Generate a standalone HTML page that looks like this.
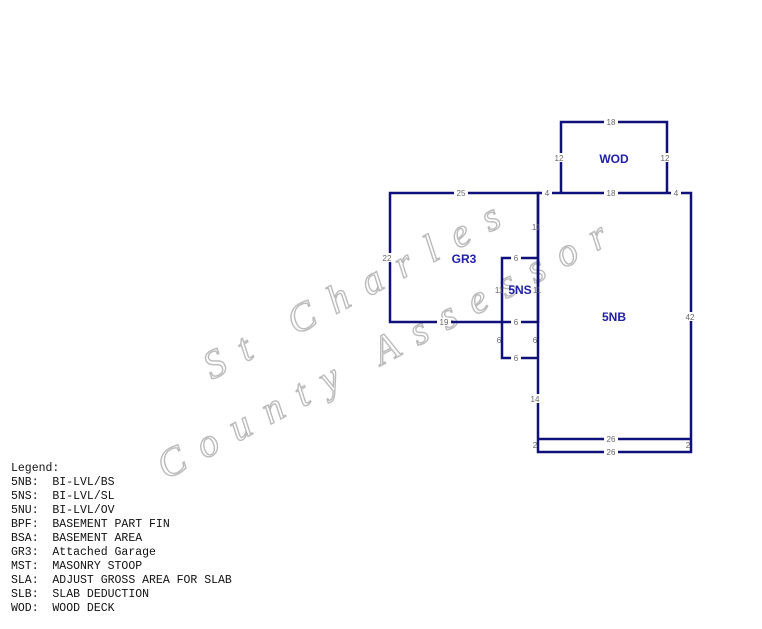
<!DOCTYPE html>
<html><head><style>
body{margin:0;background:#fff;width:762px;height:629px;overflow:hidden;position:relative}
.lg{position:absolute;left:11px;top:462px;font-family:"Liberation Mono",monospace;font-size:11.5px;line-height:14px;white-space:pre;color:#111}
</style></head><body>
<svg width="762" height="629" style="position:absolute;left:0;top:0">
<g font-family="Liberation Serif, serif" font-style="italic" font-size="40" fill="#fff" stroke="#bbb" stroke-width="1.4">
<text transform="translate(212,380) rotate(-28)" letter-spacing="18">St Charles</text>
<text transform="translate(166,480) rotate(-28)" letter-spacing="17">County Assessor</text>
</g>
<g stroke="#10107a" stroke-width="2.5" fill="none">
<rect x="390" y="193" width="148" height="129"/>
<rect x="538" y="193" width="153" height="259"/>
<line x1="538" y1="439" x2="691" y2="439"/>
<polyline points="561,193 561,122 667,122 667,193"/>
<polyline points="538,258 502,258 502,358 538,358"/>
</g>
<g font-family="Liberation Sans, sans-serif" font-size="8" fill="#666" text-anchor="middle">
<g fill="#fff" stroke="none">
<rect x="604" y="118" width="14" height="8"/><rect x="554" y="153" width="14" height="9"/><rect x="660" y="153" width="14" height="9"/>
<rect x="454" y="189" width="14" height="8"/><rect x="542" y="189" width="10" height="8"/><rect x="604" y="189" width="14" height="8"/><rect x="671" y="189" width="10" height="8"/>
<rect x="381" y="253" width="14" height="9"/><rect x="683" y="312" width="14" height="9"/><rect x="531" y="394" width="14" height="9"/>
<rect x="437" y="318" width="14" height="8"/><rect x="511" y="254" width="10" height="8"/><rect x="511" y="318" width="10" height="8"/><rect x="511" y="354" width="10" height="8"/>
<rect x="604" y="435" width="14" height="8"/><rect x="604" y="448" width="14" height="8"/>
</g>
<text x="536" y="230">11</text><text x="499" y="293">11</text><text x="537" y="293">11</text>
<text x="611" y="125">18</text><text x="559" y="161">12</text><text x="665" y="161">12</text>
<text x="461" y="196">25</text><text x="547" y="196">4</text><text x="611" y="196">18</text><text x="676" y="196">4</text>
<text x="387" y="261">22</text><text x="690" y="320">42</text>
<text x="516" y="261">6</text>
<text x="444" y="325">19</text><text x="516" y="325">6</text><text x="499" y="343">6</text><text x="535" y="343">6</text><text x="516" y="361">6</text>
<text x="535" y="402">14</text><text x="535" y="448">2</text><text x="688" y="448">2</text>
<text x="611" y="442">26</text><text x="611" y="455">26</text>
</g>
<g font-family="Liberation Sans, sans-serif" font-size="12" font-weight="bold" fill="#2020a8" text-anchor="middle">
<text x="614" y="163">WOD</text><text x="464" y="263">GR3</text><text x="520" y="294">5NS</text><text x="614" y="321">5NB</text>
</g>
</svg>
<div class="lg">Legend:
5NB:  BI-LVL/BS
5NS:  BI-LVL/SL
5NU:  BI-LVL/OV
BPF:  BASEMENT PART FIN
BSA:  BASEMENT AREA
GR3:  Attached Garage
MST:  MASONRY STOOP
SLA:  ADJUST GROSS AREA FOR SLAB
SLB:  SLAB DEDUCTION
WOD:  WOOD DECK</div>
</body></html>
